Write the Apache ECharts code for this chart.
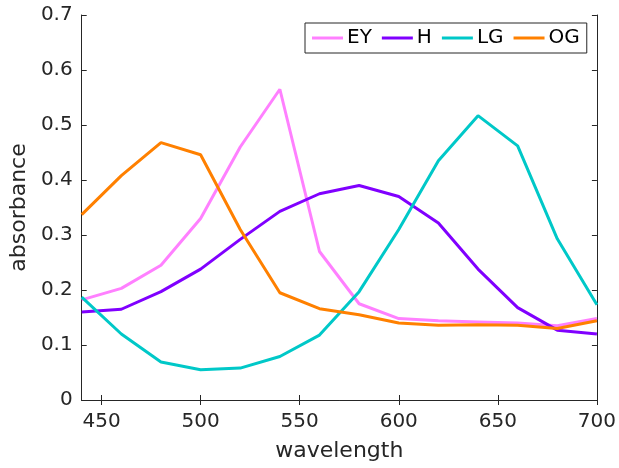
<!DOCTYPE html>
<html><head><meta charset="utf-8">
<script src="https://cdn.jsdelivr.net/npm/echarts@6/dist/echarts.min.js"></script>
<style>html,body{margin:0;padding:0;background:#fff}#c{width:619px;height:468px}</style>
</head><body><div id="c"></div>
<script>
const wavelength = [440,460,480,500,520,540,560,580,600,620,640,660,680,700];
const EY = [0.182,0.203,0.245,0.330,0.460,0.565,0.270,0.175,0.148,0.144,0.142,0.140,0.135,0.148];
const H  = [0.160,0.165,0.197,0.238,0.292,0.343,0.375,0.390,0.370,0.322,0.238,0.168,0.127,0.120];
const LG = [0.187,0.120,0.069,0.055,0.058,0.079,0.118,0.197,0.310,0.435,0.517,0.462,0.293,0.173];
const OG = [0.337,0.408,0.468,0.446,0.310,0.195,0.166,0.155,0.140,0.136,0.137,0.136,0.130,0.144];
const xTicks = [450,500,550,600,650,700];
const names = ['EY','H','LG','OG'];
const colors = ['#ff80ff','#8000ff','#00c8c8','#ff8000'];
const vals = [EY,H,LG,OG];
const font = 'DejaVu Sans';
const axisCol = '#262626';
const chart = echarts.init(document.getElementById('c'));
const baseX = {type:'value',min:440,max:700,
  axisLine:{show:true,lineStyle:{color:axisCol,width:1}},
  axisTick:{show:true,inside:true,length:5,lineStyle:{color:axisCol},customValues:xTicks},
  splitLine:{show:false}};
const baseY = {type:'value',min:0,max:0.7,interval:0.1,
  axisLine:{show:true,lineStyle:{color:axisCol,width:1}},
  axisTick:{show:true,inside:true,length:5,lineStyle:{color:axisCol}},
  splitLine:{show:false}};
chart.setOption({
  animation:false,
  grid:{left:77,right:21,top:15,bottom:68,containLabel:false},
  legend:{data:names.map(n=>({name:n,icon:'rect'})),left:305,top:23,orient:'horizontal',
    borderColor:axisCol,borderWidth:1,backgroundColor:'#fff',padding:[5,7,5,7],
    itemWidth:31,itemHeight:3,itemGap:10,
    textStyle:{fontFamily:font,fontSize:20,color:'#000',padding:[0,0,0,-1]}},
  xAxis:[Object.assign({},baseX,{position:'bottom',name:'wavelength',nameLocation:'middle',nameGap:40,
      nameTextStyle:{fontFamily:font,fontSize:22,color:axisCol},
      axisLabel:{show:true,fontFamily:font,fontSize:20,color:axisCol,margin:12,customValues:xTicks}}),
    Object.assign({},baseX,{position:'top',axisLabel:{show:false}})],
  yAxis:[Object.assign({},baseY,{position:'left',name:'absorbance',nameLocation:'middle',nameGap:50,
      nameTextStyle:{fontFamily:font,fontSize:22,color:axisCol},
      axisLabel:{show:true,fontFamily:font,fontSize:20,color:axisCol,margin:9,
        formatter:v=>v===0?'0':String(Math.round(v*10)/10)}}),
    Object.assign({},baseY,{position:'right',axisLabel:{show:false}})],
  series:names.map((n,i)=>({name:n,type:'line',data:wavelength.map((w,j)=>[w,vals[i][j]]),
    symbol:'none',color:colors[i],lineStyle:{width:3,color:colors[i]},itemStyle:{color:colors[i]}}))
});
</script></body></html>
